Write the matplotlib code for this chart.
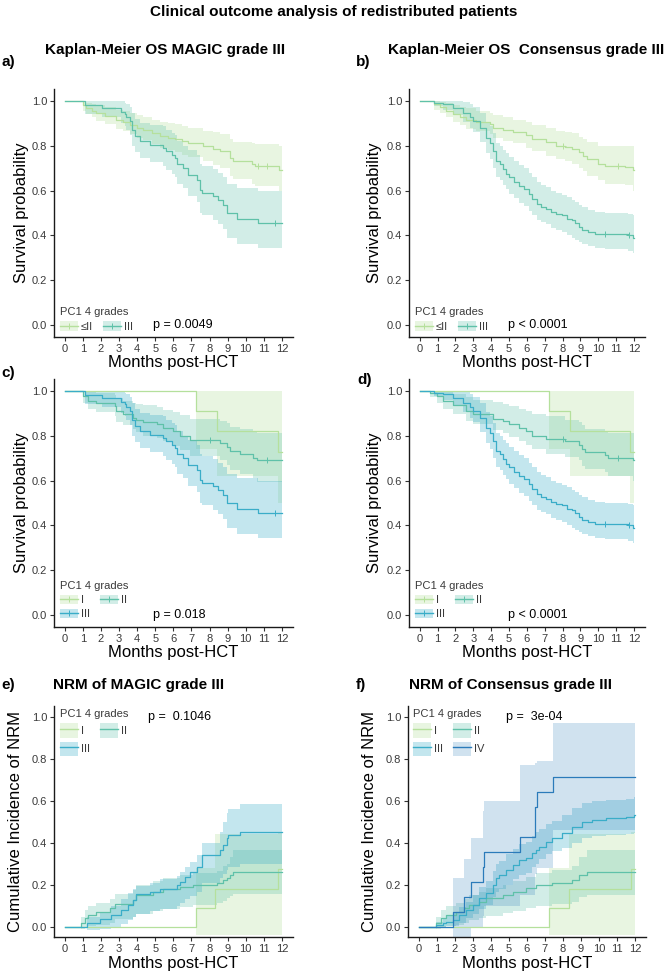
import numpy as np
import matplotlib
matplotlib.use("Agg")
import matplotlib.pyplot as plt
from matplotlib.patches import Patch
from matplotlib.lines import Line2D
from matplotlib.legend_handler import HandlerTuple

plt.rcParams['font.family'] = ['Liberation Sans', 'DejaVu Sans']

# ---------------- data ----------------
FOLLOW_UP = 12
month_ticks = list(range(13))
prob_ticks = [0.0, 0.2, 0.4, 0.6, 0.8, 1.0]

# MAGIC grade III  (panel a "III", panel c "III")
magic3_t = [0, 1.1, 2.05, 3.13, 3.31, 3.4, 3.59, 3.7, 3.87, 4.14, 4.7, 5.44, 5.62, 5.9, 6.08, 6.18, 6.55, 6.82,
            7.29, 7.47, 7.56, 8.21, 8.49, 8.76, 8.95, 9.5, 10.7]
magic3_s = [1.0, 0.98, 0.969, 0.951, 0.94, 0.929, 0.907, 0.87, 0.841, 0.819, 0.804, 0.79, 0.775, 0.76, 0.745, 0.716,
            0.70, 0.67, 0.648, 0.604, 0.59, 0.574, 0.56, 0.537, 0.50, 0.472, 0.455]
magic3_lo = [1.0, 0.94, 0.925, 0.90, 0.885, 0.87, 0.845, 0.80, 0.77, 0.745, 0.725, 0.71, 0.69, 0.675, 0.66, 0.63,
             0.61, 0.575, 0.55, 0.50, 0.49, 0.47, 0.45, 0.43, 0.39, 0.36, 0.345]
magic3_hi = [1.0, 1.0, 1.0, 1.0, 0.99, 0.985, 0.97, 0.945, 0.92, 0.9, 0.89, 0.885, 0.87, 0.855, 0.845, 0.82,
             0.80, 0.78, 0.76, 0.72, 0.71, 0.695, 0.68, 0.66, 0.63, 0.61, 0.60]
magic3_cens = [11.6]

# panel a "<=II"
magic2_t = [0, 1.0, 1.19, 1.5, 1.74, 2.2, 2.85, 3.2, 3.59, 4.0, 4.33, 4.8, 5.25, 5.7, 6.08, 6.5, 6.82, 7.65, 8.2,
            8.58, 9.13, 9.32, 10.34, 10.52, 11.82]
magic2_s = [1.0, 0.98, 0.966, 0.955, 0.944, 0.93, 0.915, 0.905, 0.892, 0.88, 0.87, 0.855, 0.843, 0.835, 0.829, 0.82,
            0.811, 0.797, 0.785, 0.775, 0.745, 0.73, 0.716, 0.708, 0.693]
magic2_lo = [1.0, 0.955, 0.94, 0.925, 0.91, 0.895, 0.875, 0.865, 0.85, 0.835, 0.825, 0.805, 0.79, 0.78, 0.77, 0.76,
             0.75, 0.73, 0.715, 0.70, 0.665, 0.65, 0.63, 0.62, 0.60]
magic2_hi = [1.0, 1.0, 0.99, 0.985, 0.98, 0.97, 0.96, 0.955, 0.945, 0.935, 0.925, 0.915, 0.905, 0.9, 0.895, 0.885,
             0.88, 0.865, 0.86, 0.85, 0.83, 0.815, 0.81, 0.805, 0.80]
magic2_cens = [10.7, 11.2]

# panel b "<=II"
cons2_t = [0, 0.78, 1.14, 1.5, 1.88, 2.25, 2.62, 3.18, 3.91, 4.10, 4.65, 5.21, 5.94, 6.31, 7.05, 7.61, 8.16, 8.53,
           8.90, 9.17, 9.36, 10.0, 10.37, 11.48, 11.94]
cons2_s = [1.0, 0.985, 0.97, 0.955, 0.94, 0.925, 0.915, 0.905, 0.895, 0.88, 0.87, 0.86, 0.845, 0.83, 0.815, 0.80,
           0.795, 0.785, 0.77, 0.755, 0.74, 0.72, 0.71, 0.705, 0.69]
cons2_lo = [1.0, 0.96, 0.945, 0.925, 0.905, 0.89, 0.875, 0.865, 0.85, 0.835, 0.82, 0.81, 0.79, 0.775, 0.755, 0.74,
            0.73, 0.72, 0.70, 0.685, 0.665, 0.645, 0.63, 0.625, 0.60]
cons2_hi = [1.0, 1.0, 0.995, 0.99, 0.98, 0.97, 0.965, 0.955, 0.945, 0.935, 0.925, 0.915, 0.905, 0.89, 0.88, 0.865,
            0.86, 0.855, 0.84, 0.83, 0.815, 0.80, 0.80, 0.80, 0.80]
cons2_cens = [8.0, 11.1]

# Consensus grade III (panel b "III", panel d "III")
cons3_t = [0, 0.78, 1.33, 1.88, 2.44, 2.81, 2.99, 3.36, 3.73, 3.91, 4.10, 4.28, 4.47, 4.65, 4.84, 5.02, 5.30, 5.58,
           5.85, 6.13, 6.31, 6.59, 6.78, 7.05, 7.33, 7.61, 7.97, 8.25, 8.53, 8.71, 8.90, 9.08, 9.45, 9.82, 10.37,
           11.67, 11.94]
cons3_s = [1.0, 0.99, 0.985, 0.965, 0.945, 0.925, 0.91, 0.88, 0.835, 0.813, 0.776, 0.73, 0.717, 0.695, 0.673, 0.658,
           0.636, 0.621, 0.607, 0.585, 0.563, 0.54, 0.526, 0.518, 0.504, 0.496, 0.489, 0.474, 0.467, 0.455, 0.437,
           0.423, 0.415, 0.408, 0.405, 0.40, 0.39]
cons3_lo = [1.0, 0.975, 0.96, 0.935, 0.905, 0.88, 0.86, 0.815, 0.765, 0.74, 0.70, 0.66, 0.645, 0.625, 0.605, 0.585,
            0.565, 0.545, 0.53, 0.51, 0.49, 0.47, 0.46, 0.45, 0.435, 0.425, 0.415, 0.40, 0.39, 0.38, 0.37, 0.36,
            0.352, 0.345, 0.34, 0.33, 0.324]
cons3_hi = [1.0, 1.0, 1.0, 1.0, 0.995, 0.985, 0.97, 0.945, 0.905, 0.885, 0.855, 0.81, 0.80, 0.78, 0.765, 0.75,
            0.73, 0.715, 0.70, 0.68, 0.66, 0.64, 0.625, 0.615, 0.60, 0.59, 0.58, 0.57, 0.56, 0.55, 0.535, 0.525,
            0.515, 0.505, 0.50, 0.495, 0.489]
cons3_cens = [10.4, 11.7]

# grade I (panels c, d)
g1_t = [0, 7.25, 8.39, 11.8]
g1_s = [1.0, 0.909, 0.819, 0.728]
g1_lo = [1.0, 0.74, 0.62, 0.50]
g1_hi = [1.0, 1.0, 1.0, 1.0]

# panel c "II"
c2_t = [0, 1.0, 1.28, 1.74, 2.76, 2.85, 3.22, 3.77, 3.96, 4.33, 5.07, 5.44, 5.99, 6.36, 6.92, 8.58, 8.95, 9.13,
        9.69, 10.43, 10.61]
c2_s = [1.0, 0.975, 0.955, 0.945, 0.93, 0.91, 0.895, 0.88, 0.87, 0.86, 0.85, 0.835, 0.82, 0.80, 0.78, 0.765, 0.75,
        0.73, 0.72, 0.70, 0.69]
c2_lo = [1.0, 0.945, 0.92, 0.905, 0.885, 0.86, 0.845, 0.83, 0.815, 0.80, 0.79, 0.775, 0.755, 0.735, 0.71, 0.69,
         0.67, 0.645, 0.63, 0.61, 0.595]
c2_hi = [1.0, 1.0, 0.995, 0.99, 0.98, 0.965, 0.955, 0.945, 0.94, 0.935, 0.925, 0.915, 0.905, 0.89, 0.875, 0.865,
         0.855, 0.84, 0.83, 0.815, 0.81]
c2_cens = [8.0, 11.2]

# panel d "II"
d2_t = [0, 0.59, 0.96, 1.33, 1.88, 2.62, 2.99, 4.10, 4.65, 5.02, 5.58, 5.94, 6.31, 7.05, 8.16, 8.90, 9.08, 9.27,
        10.37, 10.56, 11.94]
d2_s = [1.0, 0.99, 0.975, 0.955, 0.935, 0.91, 0.895, 0.875, 0.865, 0.85, 0.835, 0.82, 0.80, 0.785, 0.775, 0.76,
        0.74, 0.725, 0.715, 0.70, 0.69]
d2_lo = [1.0, 0.97, 0.945, 0.92, 0.895, 0.865, 0.85, 0.825, 0.81, 0.795, 0.775, 0.76, 0.74, 0.72, 0.705, 0.69,
         0.665, 0.65, 0.64, 0.62, 0.60]
d2_hi = [1.0, 1.0, 1.0, 0.995, 0.985, 0.97, 0.96, 0.95, 0.94, 0.93, 0.92, 0.91, 0.895, 0.885, 0.87, 0.86, 0.845,
         0.83, 0.82, 0.81, 0.81]
d2_cens = [8.0, 11.1]

# NRM grade I (panels e, f)
n1_t = [0, 7.25, 8.32, 11.8]
n1_c = [0, 0.091, 0.182, 0.273]
n1_lo = [0, -0.04, -0.04, -0.04]
n1_hi = [0, 0.28, 0.44, 0.45]

# NRM panel e II
e2_t = [0, 0.91, 1.09, 1.28, 1.74, 2.48, 2.76, 3.77, 3.96, 4.88, 5.44, 6.36, 7.1, 8.4, 8.76, 8.95, 9.13, 9.32]
e2_c = [0, 0.016, 0.04, 0.056, 0.071, 0.087, 0.11, 0.127, 0.15, 0.167, 0.178, 0.19, 0.198, 0.206, 0.222, 0.23,
        0.246, 0.262]
e2_lo = [0, -0.01, 0.0, 0.005, 0.01, 0.02, 0.035, 0.045, 0.063, 0.075, 0.085, 0.095, 0.105, 0.115, 0.125, 0.135,
         0.145, 0.155]
e2_hi = [0, 0.045, 0.08, 0.10, 0.115, 0.13, 0.155, 0.175, 0.2, 0.22, 0.23, 0.245, 0.255, 0.265, 0.29, 0.30, 0.33,
         0.365]

# NRM panel e III
e3_t = [0, 1.22, 1.92, 2.57, 3.12, 3.49, 3.77, 3.96, 4.70, 5.25, 6.18, 6.36, 6.64, 6.92, 7.29, 7.56, 8.58, 8.76,
        8.95, 9.04, 9.69]
e3_c = [0, 0.016, 0.035, 0.056, 0.079, 0.103, 0.127, 0.154, 0.167, 0.178, 0.198, 0.214, 0.238, 0.262, 0.286, 0.341,
        0.365, 0.389, 0.421, 0.437, 0.452]
e3_lo = [0, -0.015, -0.01, 0.0, 0.015, 0.03, 0.045, 0.06, 0.075, 0.085, 0.10, 0.115, 0.13, 0.145, 0.165, 0.21,
         0.23, 0.25, 0.27, 0.285, 0.30]
e3_hi = [0, 0.045, 0.07, 0.10, 0.13, 0.16, 0.18, 0.195, 0.21, 0.225, 0.24, 0.26, 0.285, 0.31, 0.34, 0.40, 0.45,
         0.50, 0.54, 0.56, 0.585]

# NRM panel f II
f2_t = [0, 0.96, 1.24, 1.51, 2.07, 2.53, 2.81, 3.36, 3.73, 4.65, 5.21, 5.94, 6.50, 7.42, 8.53, 8.90, 9.36]
f2_c = [0, 0.016, 0.04, 0.056, 0.071, 0.087, 0.103, 0.119, 0.135, 0.151, 0.167, 0.183, 0.198, 0.206, 0.222, 0.246,
        0.262]
f2_lo = [0, -0.01, 0.0, 0.005, 0.01, 0.02, 0.03, 0.04, 0.05, 0.065, 0.075, 0.09, 0.10, 0.11, 0.12, 0.14, 0.15]
f2_hi = [0, 0.045, 0.08, 0.10, 0.115, 0.13, 0.15, 0.165, 0.185, 0.20, 0.22, 0.235, 0.255, 0.27, 0.29, 0.33, 0.365]

# NRM panel f III
f3_t = [0, 0.96, 1.33, 1.51, 1.88, 2.25, 2.62, 2.99, 3.36, 3.73, 4.10, 4.28, 4.47, 4.84, 5.21, 5.58, 5.94, 6.31,
        6.50, 6.68, 7.05, 7.42, 7.97, 8.53, 9.08, 9.64, 10.37, 11.48, 11.94]
f3_c = [0, 0.008, 0.016, 0.024, 0.032, 0.056, 0.079, 0.103, 0.135, 0.159, 0.198, 0.23, 0.246, 0.27, 0.294, 0.317,
        0.325, 0.349, 0.365, 0.381, 0.405, 0.421, 0.444, 0.476, 0.50, 0.508, 0.516, 0.524, 0.532]
f3_lo = [0, -0.005, 0.0, 0.002, 0.005, 0.02, 0.04, 0.06, 0.085, 0.105, 0.14, 0.165, 0.18, 0.2, 0.225, 0.245, 0.255,
         0.285, 0.30, 0.32, 0.345, 0.36, 0.375, 0.40, 0.42, 0.43, 0.435, 0.44, 0.445]
f3_hi = [0, 0.025, 0.04, 0.05, 0.065, 0.095, 0.12, 0.15, 0.19, 0.22, 0.265, 0.30, 0.315, 0.345, 0.37, 0.395, 0.405,
         0.43, 0.45, 0.465, 0.49, 0.505, 0.53, 0.565, 0.59, 0.60, 0.605, 0.61, 0.615]

# NRM panel f IV
f4_t = [0, 1.92, 2.49, 2.9, 3.55, 3.6, 5.63, 6.44, 6.59, 7.44]
f4_c = [0, 0.071, 0.143, 0.214, 0.286, 0.357, 0.429, 0.571, 0.643, 0.714]
f4_lo = [0, -0.05, -0.05, 0.0, 0.05, 0.10, 0.15, 0.25, 0.28, 0.46]
f4_hi = [0, 0.23, 0.32, 0.42, 0.55, 0.60, 0.77, 0.78, 0.79, 0.97]

# ---------------- styling ----------------
COL_I = "#B5E09C"
COL_II = "#5FC1A9"
COL_III = "#3AADC8"
COL_IV = "#2B7BBA"
BAND_ALPHA = {COL_I: 0.3, COL_II: 0.28, COL_III: 0.3, COL_IV: 0.22}

W, H = 667, 973
fig = plt.figure(figsize=(W / 100, H / 100), dpi=100)


def px_axes(l, r, t, b):
    return fig.add_axes([l / W, 1 - b / H, (r - l) / W, (b - t) / H])


def style(ax, ylabel, ylab_x):
    ax.set_xlim(-0.6, 12.6)
    ax.set_ylim(-0.05, 1.05)
    ax.set_xticks(month_ticks)
    ax.set_xticklabels([str(m) for m in month_ticks])
    ax.set_yticks(prob_ticks)
    ax.set_yticklabels([f"{v:.1f}" for v in prob_ticks])
    for s in ['top', 'right']:
        ax.spines[s].set_visible(False)
    for s in ['left', 'bottom']:
        ax.spines[s].set_linewidth(1.0)
        ax.spines[s].set_color('#1a1a1a')
    ax.tick_params(direction='out', length=3, width=0.8, color='#333333',
                   labelcolor='#3a3a3a', labelsize=8, pad=2)
    ax.set_xlabel('Months post-HCT', fontsize=12)
    ax.set_ylabel(ylabel, fontsize=12)
    hpx = ax.get_position().height * H
    ax.xaxis.set_label_coords(0.5, -26 / hpx)
    ax.xaxis.label.set_va('center')
    ax.yaxis.set_label_coords(ylab_x, 0.5)
    ax.yaxis.label.set_va('center')


def band(ax, t, lo, hi, color):
    x = list(t) + [FOLLOW_UP]
    ax.fill_between(x, list(lo) + [lo[-1]], list(hi) + [hi[-1]], step='post',
                    color=color, alpha=BAND_ALPHA[color], lw=0, zorder=1)


def curve(ax, t, s, color, cens=None):
    x = list(t) + [FOLLOW_UP]
    ax.step(x, list(s) + [s[-1]], where='post', color=color, lw=0.9, zorder=3)
    if cens:
        idx = np.searchsorted(np.array(t), np.array(cens), side='right') - 1
        ax.plot(cens, np.array(s)[idx], ls='none', marker='+', ms=4, mew=0.7,
                color=color, zorder=4)


def legend(ax, items, order, anchor, loc, marker, hh, ncol):
    handles, labels = [], []
    for i in order:
        lab, col = items[i]
        p = Patch(facecolor=col, alpha=BAND_ALPHA[col], edgecolor='none')
        ln = Line2D([], [], color=col, lw=1.0, marker='+' if marker else None, ms=4, mew=0.7)
        handles.append((p, ln))
        labels.append(lab)
    lg = ax.legend(handles, labels, title='PC1 4 grades', loc=loc, bbox_to_anchor=anchor,
                   ncol=ncol, frameon=False, fontsize=8, title_fontsize=8,
                   handlelength=1.6, handleheight=hh, handletextpad=0.3,
                   columnspacing=0.9, labelspacing=0.35, borderpad=0, borderaxespad=0,
                   alignment='left', handler_map={tuple: HandlerTuple(ndivide=1)})
    for txt in lg.get_texts():
        txt.set_color('#3a3a3a')
    lg.get_title().set_color('#3a3a3a')
    return lg


# ---------------- figure texts ----------------
fig.text(333.5 / W, 1 - 12 / H, 'Clinical outcome analysis of redistributed patients',
         ha='center', va='center', fontsize=11, fontweight='bold')

panel_titles = [
    (165.5, 50, 'Kaplan-Meier OS MAGIC grade III'),
    (526.5, 50, 'Kaplan-Meier OS  Consensus grade III'),
    (139, 685, 'NRM of MAGIC grade III'),
    (510.5, 685, 'NRM of Consensus grade III'),
]
for x, y, s in panel_titles:
    fig.text(x / W, 1 - y / H, s, ha='center', va='center', fontsize=11, fontweight='bold')

panel_letters = [(1, 62, 'a)'), (356, 62, 'b)'), (1, 373, 'c)'), (357, 380, 'd)'),
                 (1, 685, 'e)'), (356, 685, 'f)')]
for x, y, s in panel_letters:
    fig.text(x / W, 1 - y / H, s, ha='left', va='center', fontsize=11, fontweight='bold')

# ---------------- panel a ----------------
ax = px_axes(54, 292.7, 89.3, 336.7)
style(ax, 'Survival probability', -0.138)
band(ax, magic2_t, magic2_lo, magic2_hi, COL_I)
band(ax, magic3_t, magic3_lo, magic3_hi, COL_II)
curve(ax, magic2_t, magic2_s, COL_I, magic2_cens)
curve(ax, magic3_t, magic3_s, COL_II, magic3_cens)
legend(ax, [('≤II', COL_I), ('III', COL_II)], [0, 1], (0.025, 0.02), 'lower left', True, 0.9, 2)
ax.text(4.9, 0.0, 'p = 0.0049', ha='left', va='center', fontsize=9)

# ---------------- panel b ----------------
ax = px_axes(409, 644.7, 89.3, 336.7)
style(ax, 'Survival probability', -0.146)
band(ax, cons2_t, cons2_lo, cons2_hi, COL_I)
band(ax, cons3_t, cons3_lo, cons3_hi, COL_II)
curve(ax, cons2_t, cons2_s, COL_I, cons2_cens)
curve(ax, cons3_t, cons3_s, COL_II, cons3_cens)
legend(ax, [('≤II', COL_I), ('III', COL_II)], [0, 1], (0.025, 0.02), 'lower left', True, 0.9, 2)
ax.text(4.93, 0.0, 'p < 0.0001', ha='left', va='center', fontsize=9)

# ---------------- panel c ----------------
ax = px_axes(54, 292.7, 379.3, 626.7)
style(ax, 'Survival probability', -0.138)
band(ax, g1_t, g1_lo, g1_hi, COL_I)
band(ax, c2_t, c2_lo, c2_hi, COL_II)
band(ax, magic3_t, magic3_lo, magic3_hi, COL_III)
curve(ax, g1_t, g1_s, COL_I)
curve(ax, c2_t, c2_s, COL_II, c2_cens)
curve(ax, magic3_t, magic3_s, COL_III, magic3_cens)
legend(ax, [('I', COL_I), ('II', COL_II), ('III', COL_III)], [0, 2, 1], (0.025, 0.03),
       'lower left', True, 0.9, 2)
ax.text(4.9, 0.0, 'p = 0.018', ha='left', va='center', fontsize=9)

# ---------------- panel d ----------------
ax = px_axes(409, 644.7, 379.3, 626.7)
style(ax, 'Survival probability', -0.146)
band(ax, g1_t, g1_lo, g1_hi, COL_I)
band(ax, d2_t, d2_lo, d2_hi, COL_II)
band(ax, cons3_t, cons3_lo, cons3_hi, COL_III)
curve(ax, g1_t, g1_s, COL_I)
curve(ax, d2_t, d2_s, COL_II, d2_cens)
curve(ax, cons3_t, cons3_s, COL_III, cons3_cens)
legend(ax, [('I', COL_I), ('II', COL_II), ('III', COL_III)], [0, 2, 1], (0.025, 0.03),
       'lower left', True, 0.9, 2)
ax.text(4.93, 0.0, 'p < 0.0001', ha='left', va='center', fontsize=9)

# ---------------- panel e ----------------
ax = px_axes(54, 292.7, 706, 937.3)
style(ax, 'Cumulative Incidence of NRM', -0.161)
band(ax, n1_t, n1_lo, n1_hi, COL_I)
band(ax, e2_t, e2_lo, e2_hi, COL_II)
band(ax, e3_t, e3_lo, e3_hi, COL_III)
curve(ax, n1_t, n1_c, COL_I)
curve(ax, e2_t, e2_c, COL_II)
curve(ax, e3_t, e3_c, COL_III)
legend(ax, [('I', COL_I), ('II', COL_II), ('III', COL_III)], [0, 2, 1], (0.025, 0.985),
       'upper left', False, 1.6, 2)
ax.text(4.59, 1.0, 'p =  0.1046', ha='left', va='center', fontsize=9)

# ---------------- panel f ----------------
ax = px_axes(408, 645.7, 706, 937.3)
style(ax, 'Cumulative Incidence of NRM', -0.16)
band(ax, n1_t, n1_lo, n1_hi, COL_I)
band(ax, f2_t, f2_lo, f2_hi, COL_II)
band(ax, f3_t, f3_lo, f3_hi, COL_III)
band(ax, f4_t, f4_lo, f4_hi, COL_IV)
curve(ax, n1_t, n1_c, COL_I)
curve(ax, f2_t, f2_c, COL_II)
curve(ax, f3_t, f3_c, COL_III)
curve(ax, f4_t, f4_c, COL_IV)
legend(ax, [('I', COL_I), ('II', COL_II), ('III', COL_III), ('IV', COL_IV)], [0, 2, 1, 3],
       (0.021, 0.985), 'upper left', False, 1.6, 2)
ax.text(4.82, 1.0, 'p =  3e-04', ha='left', va='center', fontsize=9)

fig.savefig('out.png', dpi=100)
